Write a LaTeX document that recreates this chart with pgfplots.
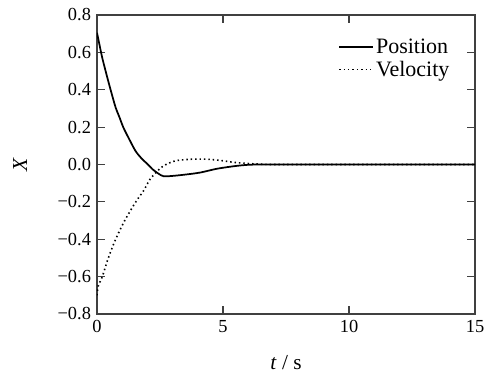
\documentclass[border=0pt]{standalone}
\usepackage{pgfplots}
\pgfplotsset{compat=1.18}
\usepackage{fontspec}
\setmainfont{Liberation Serif}
\begin{document}
\begin{tikzpicture}
\begin{axis}[
  scale only axis,
  width=283.5pt, height=224.25pt,
  xmin=0, xmax=15, ymin=-0.8, ymax=0.8,
  xtick={0,5,10,15},
  ytick={-0.8,-0.6,-0.4,-0.2,0,0.2,0.4,0.6,0.8},
  yticklabels={−0.8,−0.6,−0.4,−0.2,0.0,0.2,0.4,0.6,0.8},
  /pgf/number format/assume math mode=true,
  tick align=inside,
  major tick length=6pt,
  minor tick num=0,
  axis line style={line width=0.9pt, black!75},
  every tick/.style={line width=0.9pt, black!75},
  tick label style={font=\fontsize{13.8}{16}\selectfont},
  yticklabel style={xshift=-1pt},
  xticklabel style={yshift=-1pt},
  label style={font=\fontsize{16}{19}\selectfont},
  xlabel={\textit{t} / s},
  ylabel={\textit{X}},
  xlabel style={yshift=-10pt},
  ylabel style={yshift=16pt},
  legend style={draw=none, fill=none, inner sep=0pt, at={(0.94,0.93)}, anchor=north east, font=\fontsize{16.5}{19}\selectfont, row sep=0pt},
  legend cell align=left,
  legend image code/.code={\draw[#1] (0pt,0pt) -- (25pt,0pt);},
]
\addplot[black, line width=1.3pt, smooth] coordinates {
(0,0.705) (0.1,0.64) (0.21,0.57) (0.4,0.47) (0.56,0.39) (0.74,0.305) (0.9,0.25) (1.04,0.20) (1.3,0.13) (1.54,0.07) (1.8,0.028) (2.0,0.003) (2.2,-0.025) (2.45,-0.05) (2.65,-0.063) (3.0,-0.061) (3.5,-0.054) (4.1,-0.043) (4.75,-0.023) (5.5,-0.008) (6.1,-0.001) (7,0) (10,0) (15,0)
};
\addlegendentry{Position}
\addplot[black, line width=1.2pt, dash pattern=on 1.1pt off 2.2pt, smooth] coordinates {
(0,-0.70) (0.05,-0.65) (0.21,-0.60) (0.45,-0.50) (0.74,-0.40) (1.1,-0.30) (1.54,-0.20) (1.85,-0.14) (2.1,-0.08) (2.4,-0.035) (2.63,-0.008) (2.9,0.01) (3.16,0.021) (3.69,0.028) (4.1,0.029) (4.5,0.027) (5.0,0.02) (5.4,0.012) (5.9,0.006) (6.3,0.003) (7,0) (10,0) (15,0)
};
\addlegendentry{Velocity}
\end{axis}
\pgfresetboundingbox
\path (current axis.south west) ++(-72.75pt,-50.25pt) coordinate (bl);
\path (current axis.north east) ++(13.5pt,11.25pt) coordinate (tr);
\path[use as bounding box] (bl) rectangle (tr);
\end{tikzpicture}
\end{document}
